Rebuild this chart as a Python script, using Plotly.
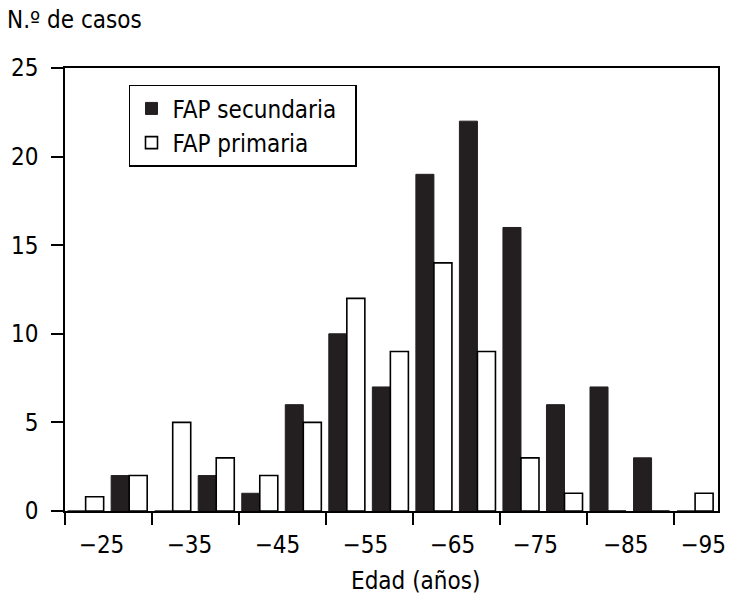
import plotly.graph_objects as go

# Age groups (lower edge of each 5-year bin)
age_groups = [20, 25, 30, 35, 40, 45, 50, 55, 60, 65, 70, 75, 80, 85, 90]
fap_secundaria = [0, 2, 0, 2, 1, 6, 10, 7, 19, 22, 16, 6, 7, 3, 0]
fap_primaria = [0.8, 2, 5, 3, 2, 5, 12, 9, 14, 9, 3, 1, 0, 0, 1]

tick_labels = ["\u221225", "\u221235", "\u221245", "\u221255", "\u221265", "\u221275", "\u221285", "\u221295"]
y_ticks = [0, 5, 10, 15, 20, 25]

FONT = "DejaVu Sans Condensed, Liberation Sans Narrow, sans-serif"
DARK = "#231f20"
FS = 24
PAD = "\u00a0\u00a0"

fig = go.Figure()
fig.add_trace(go.Bar(
    x=age_groups, y=fap_secundaria, name="FAP secundaria" + PAD,
    width=2.07, offset=0.3,
    marker=dict(color=DARK, line=dict(color=DARK, width=1)),
))
fig.add_trace(go.Bar(
    x=age_groups, y=fap_primaria, name="FAP primaria" + PAD,
    width=2.07, offset=2.37,
    marker=dict(color="white", line=dict(color="black", width=1.6)),
))

label_pos = [24.2, 34.3, 44.4, 54.5, 64.5, 74.0, 84.4, 93.3]

fig.update_layout(
    width=730, height=606,
    margin=dict(l=65, r=12, t=68, b=95, autoexpand=False),
    paper_bgcolor="white", plot_bgcolor="white",
    barmode="overlay",
    font=dict(family=FONT, size=FS, color="black"),
    showlegend=True,
    legend=dict(
        x=0.098, y=0.962, xanchor="left", yanchor="top",
        bordercolor="black", borderwidth=1.5, bgcolor="white",
        font=dict(family=FONT, size=FS, color="black"),
        traceorder="normal", itemwidth=32,
    ),
    xaxis=dict(
        range=[20, 95], tickvals=list(range(20, 95, 10)),
        showticklabels=False, ticks="outside", ticklen=12, tickwidth=1.5,
        tickcolor="black", showline=True, linecolor="black", linewidth=1.5,
        mirror=True, showgrid=False, zeroline=False, automargin=False,
    ),
    xaxis2=dict(
        range=[20, 95], overlaying="x", anchor="y", side="bottom",
        tickvals=label_pos, ticktext=tick_labels, ticks="",
        showline=False, showgrid=False, zeroline=False, automargin=False,
        tickfont=dict(family=FONT, size=FS, color="black"),
        ticklabelstandoff=17,
    ),
    yaxis=dict(
        range=[0, 25], tickvals=y_ticks, ticks="outside", ticklen=12,
        tickwidth=1.5, tickcolor="black", showline=True, linecolor="black",
        linewidth=1.5, mirror=True, showgrid=False, zeroline=False,
        automargin=False,
        tickfont=dict(family=FONT, size=FS, color="black"),
        ticklabelstandoff=8,
    ),
    annotations=[
        dict(text="N.\u00ba de casos", xref="paper", yref="paper",
             x=-0.092, y=1.108, xanchor="left", yanchor="middle",
             showarrow=False, font=dict(family=FONT, size=FS, color="black")),
        dict(text="Edad (a\u00f1os)", xref="paper", yref="paper",
             x=0.536, y=-0.158, xanchor="center", yanchor="middle",
             showarrow=False, font=dict(family=FONT, size=FS, color="black")),
    ],
)
# invisible trace on xaxis2 so the label axis renders
fig.add_trace(go.Scatter(x=[20], y=[0], xaxis="x2", mode="markers",
                         marker=dict(opacity=0), showlegend=False, hoverinfo="skip"))

fig.write_html("out.html", config={"displayModeBar": False},
               post_script="document.body.style.margin='0';")
